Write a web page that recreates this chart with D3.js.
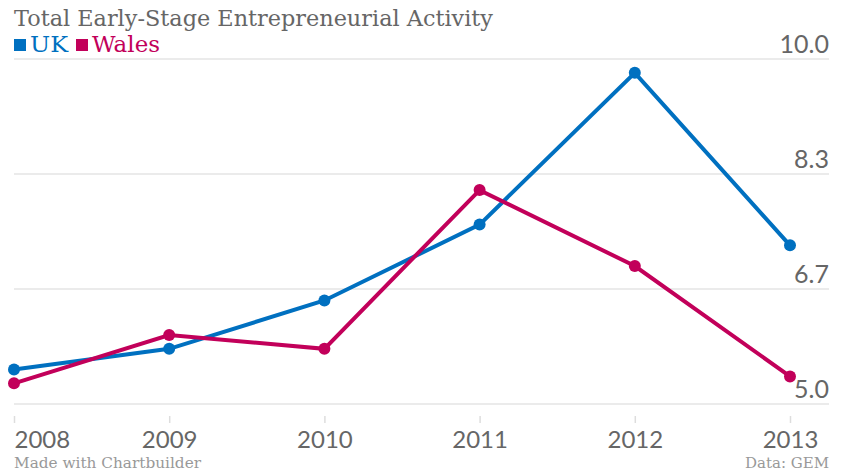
<!DOCTYPE html>
<html>
<head>
<meta charset="utf-8">
<script src="https://cdn.jsdelivr.net/npm/d3@7"></script>
<style>
    body { margin: 0; background: #fff; }
    svg text { font-family: 'DejaVu Serif', serif; }
</style>
</head>
<body>
<div id="chart"></div>
<script>
const years = [2008, 2009, 2010, 2011, 2012, 2013]
const ukValues = [5.5, 5.8, 6.5, 7.6, 9.8, 7.3]
const walesValues = [5.3, 6.0, 5.8, 8.1, 7.0, 5.4]
const yTicks = [5, 6.6667, 8.3333, 10]
const seriesNames = ['UK', 'Wales']
const seriesColors = ['#0070C0', '#C2005A']

const width = 844, height = 475
const margin = { left: 14, right: 15, top: 59, bottom: 71 }

const svg = d3.select('#chart').append('svg')
    .attr('width', width)
    .attr('height', height)

const x = d3.scalePoint()
    .domain(years)
    .range([14, 790])

const y = d3.scaleLinear()
    .domain([5, 10])
    .range([height - margin.bottom, margin.top])

// gridlines + right labels
const grid = svg.append('g')
grid.selectAll('line')
    .data(yTicks)
    .enter()
    .append('line')
    .attr('x1', margin.left)
    .attr('x2', width - margin.right)
    .attr('y1', d => y(d))
    .attr('y2', d => y(d))
    .attr('stroke', '#e4e4e4')
    .attr('stroke-width', 1.5)

grid.selectAll('text')
    .data(yTicks)
    .enter()
    .append('text')
    .attr('x', width - margin.right)
    .attr('y', d => y(d) - 6)
    .attr('text-anchor', 'end')
    .style('font-family', 'Lato, sans-serif')
    .style('font-size', '25px')
    .attr('fill', '#666')
    .text(d => d3.format('.1f')(d))

// x axis
const xAxis = svg.append('g')
    .attr('transform', `translate(0,${y(5) + 12})`)
    .call(d3.axisBottom(x).tickSize(7).tickPadding(8))
xAxis.select('.domain').remove()
xAxis.selectAll('line').attr('stroke', '#ddd').attr('stroke-width', 1.5)
xAxis.selectAll('text')
    .style('font-family', 'Lato, sans-serif')
    .style('font-size', '24px')
    .attr('fill', '#666')
    .attr('text-anchor', (d, i) => i == 0 ? 'start' : 'middle')

// series
const series = [ukValues, walesValues].map((vals, i) => ({
    name: seriesNames[i],
    color: seriesColors[i],
    values: vals.map((v, j) => ({ year: years[j], value: v }))
}))

const line = d3.line()
    .x(d => x(d.year))
    .y(d => y(d.value))

const groups = svg.selectAll('.series')
    .data(series)
    .enter()
    .append('g')
    .attr('class', 'series')

groups.append('path')
    .attr('d', d => line(d.values))
    .attr('fill', 'none')
    .attr('stroke', d => d.color)
    .attr('stroke-width', 4)

groups.selectAll('circle')
    .data(d => d.values.map(v => ({ ...v, color: d.color })))
    .enter()
    .append('circle')
    .attr('cx', d => x(d.year))
    .attr('cy', d => y(d.value))
    .attr('r', 6)
    .attr('fill', d => d.color)

// title + legend
svg.append('text')
    .attr('x', 14)
    .attr('y', 26)
    .style('font-size', '22px')
    .attr('textLength', 479)
    .attr('lengthAdjust', 'spacingAndGlyphs')
    .attr('fill', '#666')
    .text('Total Early-Stage Entrepreneurial Activity')

const legendX = [14, 76]
const legendW = [38, 68]
const legend = svg.selectAll('.legend')
    .data(series)
    .enter()
    .append('g')
    .attr('class', 'legend')
    .attr('transform', (d, i) => `translate(${legendX[i]},0)`)
legend.append('rect')
    .attr('x', 0)
    .attr('y', 39)
    .attr('width', 12)
    .attr('height', 12)
    .attr('fill', d => d.color)
legend.append('text')
    .attr('x', 16)
    .attr('y', 52)
    .style('font-size', '22px')
    .attr('textLength', (d, i) => legendW[i])
    .attr('lengthAdjust', 'spacingAndGlyphs')
    .attr('fill', d => d.color)
    .text(d => d.name)

// footer
svg.append('text')
    .attr('x', 14)
    .attr('y', 468)
    .style('font-size', '15px')
    .attr('textLength', 187)
    .attr('lengthAdjust', 'spacingAndGlyphs')
    .attr('fill', '#999')
    .text('Made with Chartbuilder')
svg.append('text')
    .attr('x', width - margin.right)
    .attr('y', 468)
    .attr('text-anchor', 'end')
    .style('font-size', '15px')
    .attr('fill', '#999')
    .text('Data: GEM')
</script>
</body>
</html>
